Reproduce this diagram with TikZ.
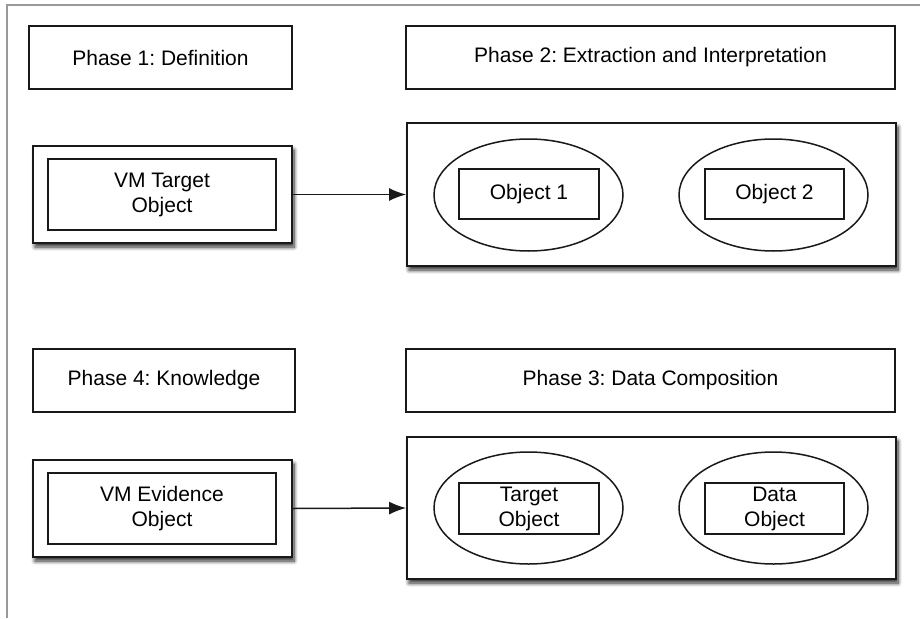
\documentclass[tikz,border=0pt]{standalone}
\usepackage{fontspec}
\setmainfont{Liberation Sans}
\usetikzlibrary{shapes.geometric,arrows.meta,shadows.blur}
\tikzset{
  boxline/.style={draw=black!90, line width=1.8pt},
  label box/.style={boxline, rectangle, inner sep=0pt, align=center, font=\fontsize{21}{25}\selectfont\frenchspacing},
  shadowed/.style={blur shadow={shadow xshift=2pt, shadow yshift=-4pt, shadow blur radius=4pt, shadow opacity=85, shadow blur steps=8}, fill=white},
  objell/.style={draw=black!90, line width=1.5pt, ellipse, inner sep=0pt},
  conn/.style={draw=black!90, line width=1.5pt, -{Latex[length=17pt,width=13pt]}}
}
\begin{document}
\begin{tikzpicture}[x=1pt,y=-1pt]
\useasboundingbox (0,0) rectangle (920,618);
\draw[black!40, line width=1.5pt] (7,618) -- (7,5) -- (920,5);

% Phase labels
\node[label box, minimum width=263pt, minimum height=63pt] (p1) at (160.5,57.5) {Phase 1: Definition};
\node[label box, minimum width=489pt, minimum height=63pt] (p2) at (650.5,57.5) {Phase 2: Extraction and Interpretation};
\node[label box, minimum width=262pt, minimum height=63pt] (p4) at (164,380.5) {Phase 4: Knowledge};
\node[label box, minimum width=489pt, minimum height=63pt] (p3) at (650.5,380.5) {Phase 3: Data Composition};

% Phase 1 content
\node[boxline, shadowed, minimum width=259pt, minimum height=97pt, inner sep=0pt] (vmt) at (162.5,194.5) {};
\node[label box, minimum width=228pt, minimum height=71pt] (vmti) at (162,194.5) {VM Target\\Object};

% Phase 2 content
\node[boxline, shadowed, minimum width=489pt, minimum height=143pt, inner sep=0pt] (ext) at (651.5,194.5) {};
\node[objell, minimum width=189pt, minimum height=112pt] (e1) at (528.5,195) {};
\node[label box, minimum width=140pt, minimum height=50pt] (o1) at (529,194) {Object 1};
\node[objell, minimum width=189pt, minimum height=112pt] (e2) at (773.5,195) {};
\node[label box, minimum width=139pt, minimum height=50pt] (o2) at (774.5,194) {Object 2};

% Phase 4 content
\node[boxline, shadowed, minimum width=259pt, minimum height=97pt, inner sep=0pt] (vme) at (162.5,508.5) {};
\node[label box, minimum width=228pt, minimum height=71pt] (vmei) at (162,508.5) {VM Evidence\\Object};

% Phase 3 content
\node[boxline, shadowed, minimum width=489pt, minimum height=142pt, inner sep=0pt] (comp) at (651.5,508) {};
\node[objell, minimum width=189pt, minimum height=112pt] (e3) at (528.5,508) {};
\node[label box, minimum width=140pt, minimum height=51pt] (o3) at (529,508.5) {Target\\Object};
\node[objell, minimum width=189pt, minimum height=112pt] (e4) at (773.5,508) {};
\node[label box, minimum width=139pt, minimum height=51pt] (o4) at (774.5,508.5) {Data\\Object};

% connectors
\draw[conn] (vmt.east) -- (ext.west);
\draw[conn] (vme.east) -- (comp.west);
\end{tikzpicture}
\end{document}
